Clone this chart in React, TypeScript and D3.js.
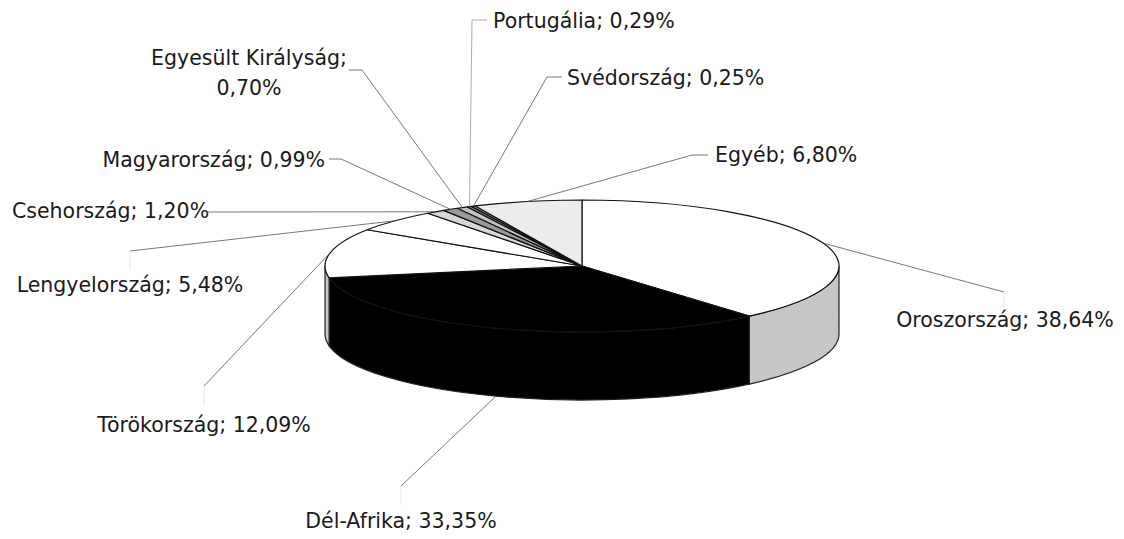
import * as d3 from "d3";

const countries = [
  "Oroszország",
  "Dél-Afrika",
  "Törökország",
  "Lengyelország",
  "Csehország",
  "Magyarország",
  "Egyesült Királyság",
  "Portugália",
  "Svédország",
  "Egyéb",
];
const shares = [38.64, 33.35, 12.09, 5.48, 1.2, 0.99, 0.7, 0.29, 0.25, 6.8];

const topColors = ["#ffffff", "#000000", "#ffffff", "#ffffff", "#d6d6d6", "#9a9a9a", "#c4c4c4", "#808080", "#b4b4b4", "#ececec"];
const sideColors = ["#c6c6c6", "#000000", "#c6c6c6", "#c6c6c6", "#aaaaaa", "#777777", "#999999", "#666666", "#888888", "#bdbdbd"];

// label placement: text position + where the leader meets the label
type Layout = {
  x: number;
  y: number;
  anchor: "start" | "middle" | "end";
  end: [number, number];
  dash?: [number, number];
  tick?: number;
  lines?: string[];
};
const layout: Layout[] = [
  { x: 1005, y: 327, anchor: "middle", end: [1004, 292], tick: 308 },
  { x: 401, y: 528, anchor: "middle", end: [401, 486], tick: 505 },
  { x: 204, y: 432, anchor: "middle", end: [204, 386], tick: 405 },
  { x: 130, y: 292, anchor: "middle", end: [130, 251], tick: 270 },
  { x: 12, y: 218, anchor: "start", end: [208, 212] },
  { x: 325, y: 167, anchor: "end", end: [341, 159], dash: [329, 159] },
  { x: 249, y: 65, anchor: "middle", end: [362, 70], dash: [349, 70], lines: ["Egyesült Királyság;", "0,70%"] },
  { x: 493, y: 28, anchor: "start", end: [472, 20], dash: [487, 20] },
  { x: 567, y: 85, anchor: "start", end: [547, 77], dash: [562, 77] },
  { x: 715, y: 162, anchor: "start", end: [692, 155], dash: [708, 155] },
];

const W = 1124;
const H = 539;
const cx = 582;
const cy = 266;
const rx = 257;
const ry = 66;
const depth = 68;

const pt = (a: number, dy = 0): [number, number] => [cx + rx * Math.sin(a), cy - ry * Math.cos(a) + dy];
const fmt = (v: number) => v.toFixed(2).replace(".", ",") + "%";

export default function App() {
  const pie = d3.pie<number>().sort(null).startAngle(0).endAngle(2 * Math.PI);
  const arcs = pie(shares);

  const topPath = (a0: number, a1: number) => {
    const p0 = pt(a0);
    const p1 = pt(a1);
    const large = a1 - a0 > Math.PI ? 1 : 0;
    return `M${cx},${cy}L${p0[0]},${p0[1]}A${rx},${ry} 0 ${large} 1 ${p1[0]},${p1[1]}Z`;
  };

  const wallPath = (a0: number, a1: number) => {
    const b0 = Math.max(a0, Math.PI / 2);
    const b1 = Math.min(a1, (3 * Math.PI) / 2);
    if (b1 <= b0) return null;
    const p0 = pt(b0);
    const p1 = pt(b1);
    const q0 = pt(b0, depth);
    const q1 = pt(b1, depth);
    return `M${p0[0]},${p0[1]}A${rx},${ry} 0 0 1 ${p1[0]},${p1[1]}L${q1[0]},${q1[1]}A${rx},${ry} 0 0 0 ${q0[0]},${q0[1]}Z`;
  };

  const leaderStart = (a: number): [number, number] => {
    const front = a > Math.PI / 2 && a < (3 * Math.PI) / 2;
    return pt(a, front ? depth : 0);
  };

  return (
    <svg width={W} height={H} style={{ position: "absolute", left: 0, top: 0, background: "#fff" }}>
      <g>
        {arcs.map((d, i) => {
          const p = wallPath(d.startAngle, d.endAngle);
          return p ? <path key={"w" + i} d={p} fill={sideColors[i]} stroke="#222" strokeWidth={1.2} /> : null;
        })}
        {arcs.map((d, i) => (
          <path key={"t" + i} d={topPath(d.startAngle, d.endAngle)} fill={topColors[i]} stroke="#111" strokeWidth={1.2} strokeLinejoin="round" />
        ))}
      </g>
      <g fill="none" strokeWidth={0.8}>
        {arcs.map((d, i) => {
          const L = layout[i];
          const s = leaderStart((d.startAngle + d.endAngle) / 2);
          const pts: [number, number][] = [s, L.end];
          if (L.dash) pts.push(L.dash);
          return (
            <g key={"l" + i}>
              <path d={d3.line()(pts) as string} stroke={i === 7 ? "#999" : "#555"} />
              {L.tick ? <line x1={L.end[0]} y1={L.end[1]} x2={L.end[0]} y2={L.tick} stroke="#e2e2e2" /> : null}
            </g>
          );
        })}
      </g>
      <g fontFamily="'DejaVu Sans', sans-serif" fontSize={20.5} fill="#1a1a1a">
        {countries.map((c, i) => {
          const L = layout[i];
          if (L.lines) {
            return (
              <text key={"x" + i} textAnchor={L.anchor}>
                {L.lines.map((ln, j) => (
                  <tspan key={j} x={L.x} y={L.y + j * 30}>
                    {ln}
                  </tspan>
                ))}
              </text>
            );
          }
          return (
            <text key={"x" + i} x={L.x} y={L.y} textAnchor={L.anchor}>
              {`${c}; ${fmt(shares[i])}`}
            </text>
          );
        })}
      </g>
    </svg>
  );
}
